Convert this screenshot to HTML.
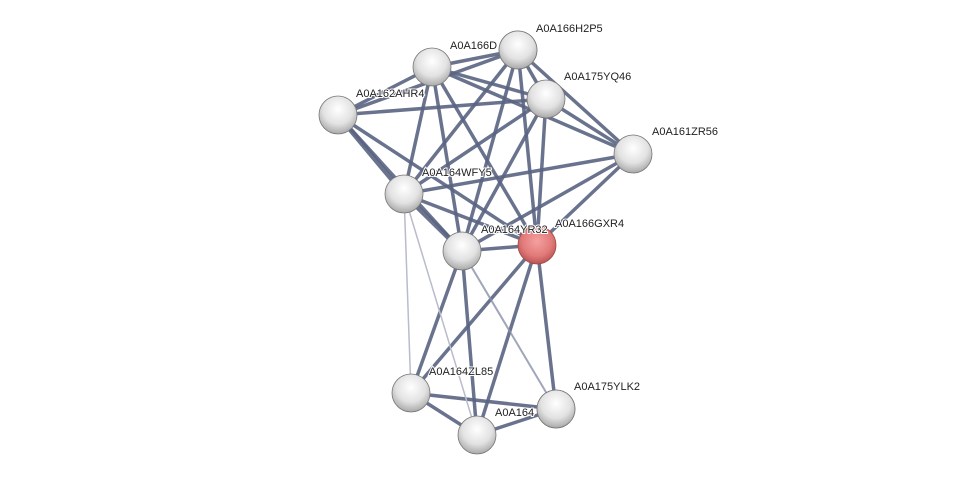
<!DOCTYPE html>
<html><head><style>
html,body{margin:0;padding:0;background:#fff;}
svg{display:block;}
text{font-family:"Liberation Sans",Arial,sans-serif;font-size:11px;fill:#222;paint-order:stroke;stroke:#fff;stroke-width:2px;}
</style></head><body>
<svg width="976" height="480" viewBox="0 0 976 480" xmlns="http://www.w3.org/2000/svg">
<defs>
<radialGradient id="gw" cx="50%" cy="35%" r="65%">
<stop offset="0" stop-color="#ffffff"/><stop offset="0.6" stop-color="#e2e2e2"/><stop offset="1" stop-color="#a9a9a9"/>
</radialGradient>
<radialGradient id="gr" cx="50%" cy="40%" r="65%">
<stop offset="0" stop-color="#f5a0a0"/><stop offset="0.6" stop-color="#e27a7a"/><stop offset="1" stop-color="#b04a4a"/>
</radialGradient>
</defs>
<g stroke="#5a6482" stroke-width="3.5" stroke-opacity="0.9" fill="none">
<line x1="432" y1="67" x2="518" y2="50"/>
<line x1="432" y1="67" x2="546" y2="99"/>
<line x1="432" y1="67" x2="338" y2="115"/>
<line x1="432" y1="67" x2="633" y2="154"/>
<line x1="432" y1="67" x2="404" y2="194"/>
<line x1="432" y1="67" x2="462" y2="251"/>
<line x1="432" y1="67" x2="537" y2="245"/>
<line x1="518" y1="50" x2="338" y2="115"/>
<line x1="518" y1="50" x2="546" y2="99"/>
<line x1="518" y1="50" x2="633" y2="154"/>
<line x1="518" y1="50" x2="404" y2="194"/>
<line x1="518" y1="50" x2="462" y2="251"/>
<line x1="518" y1="50" x2="537" y2="245"/>
<line x1="546" y1="99" x2="338" y2="115"/>
<line x1="546" y1="99" x2="633" y2="154"/>
<line x1="546" y1="99" x2="404" y2="194"/>
<line x1="546" y1="99" x2="462" y2="251"/>
<line x1="546" y1="99" x2="537" y2="245"/>
<line x1="338" y1="115" x2="404" y2="194" stroke-width="5"/>
<line x1="338" y1="115" x2="462" y2="251"/>
<line x1="338" y1="115" x2="537" y2="245"/>
<line x1="633" y1="154" x2="404" y2="194"/>
<line x1="633" y1="154" x2="462" y2="251"/>
<line x1="633" y1="154" x2="537" y2="245"/>
<line x1="404" y1="194" x2="462" y2="251" stroke-width="5"/>
<line x1="404" y1="194" x2="537" y2="245"/>
<line x1="462" y1="251" x2="537" y2="245"/>
<line x1="462" y1="251" x2="411" y2="393"/>
<line x1="462" y1="251" x2="477" y2="435"/>
<line x1="537" y1="245" x2="411" y2="393"/>
<line x1="537" y1="245" x2="477" y2="435"/>
<line x1="537" y1="245" x2="556" y2="409"/>
<line x1="411" y1="393" x2="477" y2="435"/>
<line x1="411" y1="393" x2="556" y2="409"/>
<line x1="477" y1="435" x2="556" y2="409"/>
</g>
<g stroke="#8890a8" stroke-width="2" stroke-opacity="0.8">
<line x1="462" y1="251" x2="556" y2="409"/>
</g>
<g stroke="#b8bccb" stroke-width="1.5">
<line x1="404" y1="194" x2="411" y2="393"/>
<line x1="404" y1="194" x2="477" y2="435"/>
</g>
<g stroke="#777" stroke-width="0.8">
<circle cx="432" cy="67" r="19" fill="url(#gw)"/>
<circle cx="518" cy="50" r="19" fill="url(#gw)"/>
<circle cx="546" cy="99" r="19" fill="url(#gw)"/>
<circle cx="338" cy="115" r="19" fill="url(#gw)"/>
<circle cx="633" cy="154" r="19" fill="url(#gw)"/>
<circle cx="404" cy="194" r="19" fill="url(#gw)"/>
<circle cx="462" cy="251" r="19" fill="url(#gw)"/>
<circle cx="411" cy="393" r="19" fill="url(#gw)"/>
<circle cx="477" cy="435" r="19" fill="url(#gw)"/>
<circle cx="556" cy="409" r="19" fill="url(#gw)"/>
</g>
<circle cx="537" cy="245" r="19" fill="url(#gr)" stroke="#a04a4a" stroke-width="0.8"/>
<text x="536" y="32">A0A166H2P5</text>
<text x="564" y="80">A0A175YQ46</text>
<text x="356" y="97">A0A162AHR4</text>
<text x="652" y="135">A0A161ZR56</text>
<text x="422" y="176">A0A164WFY5</text>
<text x="555" y="227">A0A166GXR4</text>
<text x="429" y="375">A0A164ZL85</text>
<text x="574" y="390">A0A175YLK2</text>
<text x="450" y="49">A0A166D</text>
<circle cx="518" cy="50" r="19" fill="url(#gw)" stroke="#777" stroke-width="0.8"/>
<text x="481" y="233">A0A164YR32</text>
<text x="495" y="416">A0A164</text>
<circle cx="556" cy="409" r="19" fill="url(#gw)" stroke="#777" stroke-width="0.8"/>
</svg>
</body></html>
